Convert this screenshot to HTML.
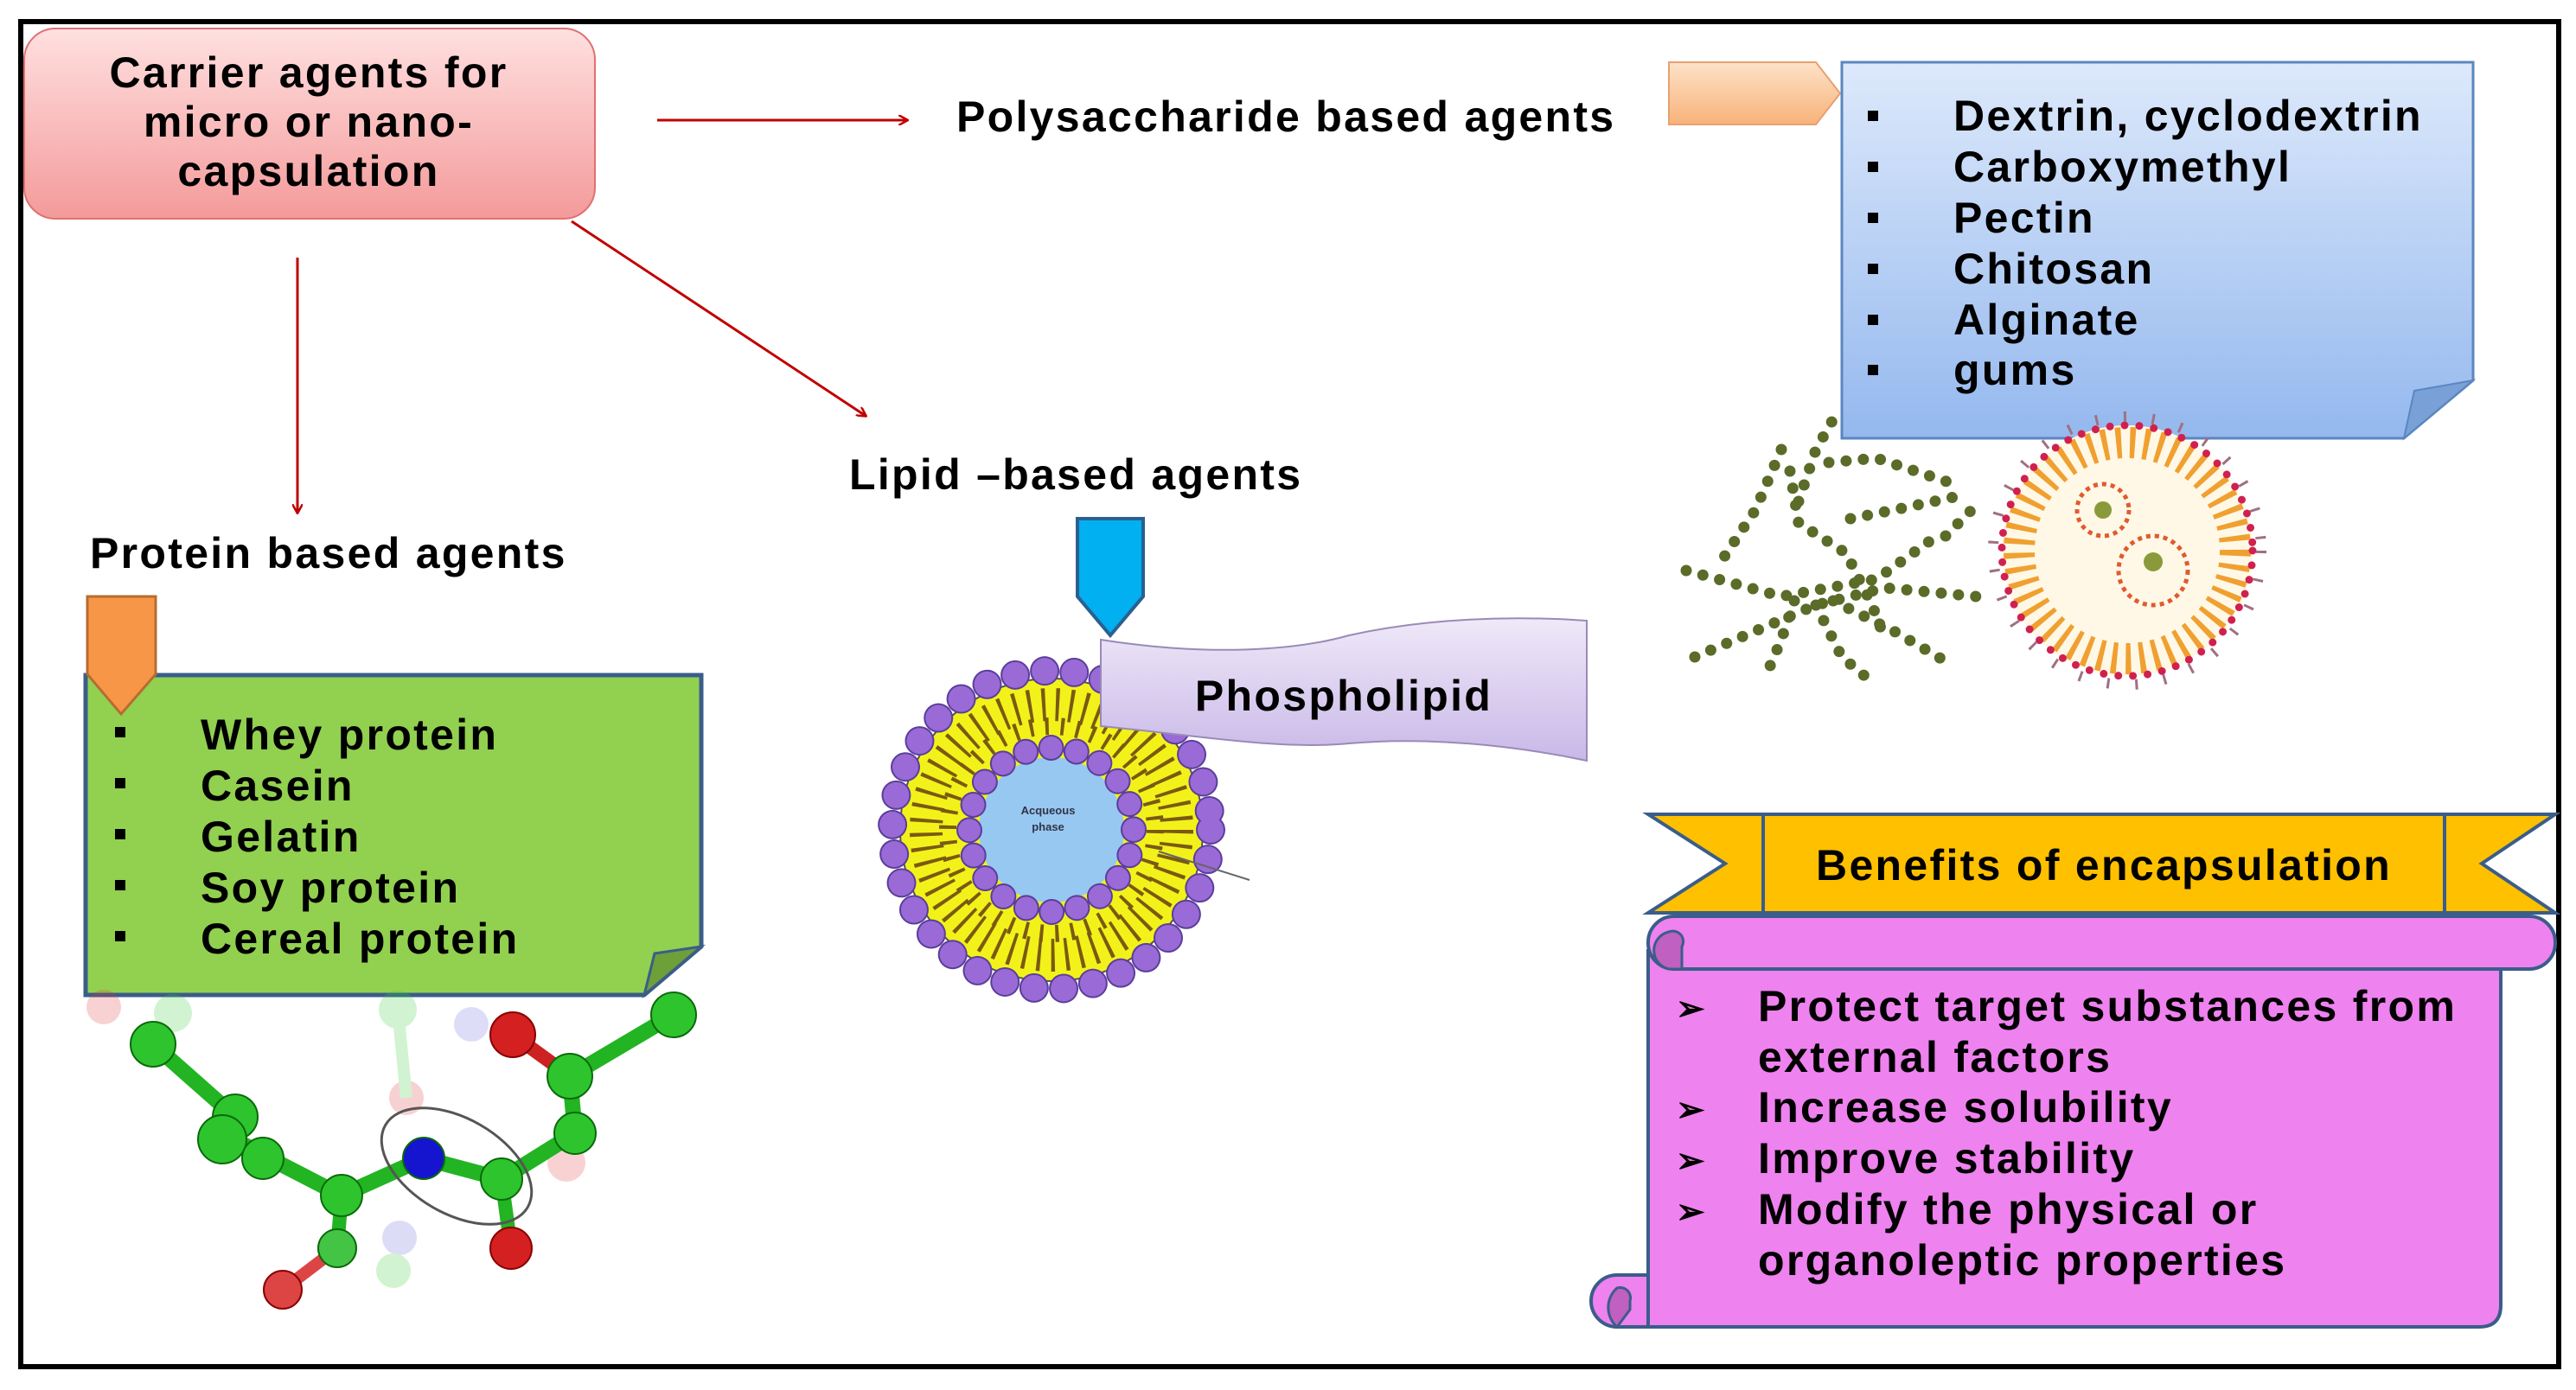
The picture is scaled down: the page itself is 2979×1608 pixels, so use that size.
<!DOCTYPE html>
<html><head><meta charset="utf-8"><style>
html,body{margin:0;padding:0;background:#fff}
svg{display:block}
text{font-family:"Liberation Sans",Arial,sans-serif;font-weight:bold;fill:#000;letter-spacing:2.3px}
text.s{letter-spacing:0}
</style></head><body>
<svg width="2979" height="1608" viewBox="0 0 2979 1608" xmlns="http://www.w3.org/2000/svg">
<defs>
<linearGradient id="pink" x1="0" y1="0" x2="0" y2="1"><stop offset="0" stop-color="#ffe0e0"/><stop offset="1" stop-color="#f49a9a"/></linearGradient>
<linearGradient id="blue" x1="0" y1="0" x2="0" y2="1"><stop offset="0" stop-color="#dde9fb"/><stop offset="1" stop-color="#94b8ee"/></linearGradient>
<linearGradient id="lav" x1="0" y1="0" x2="0" y2="1"><stop offset="0" stop-color="#efe9f8"/><stop offset="1" stop-color="#c9b8e8"/></linearGradient>
<linearGradient id="peach" x1="0" y1="0" x2="0" y2="1"><stop offset="0" stop-color="#fde2c8"/><stop offset="1" stop-color="#f8b27a"/></linearGradient>
<marker id="ah" markerWidth="12" markerHeight="12" refX="10" refY="6" orient="auto" markerUnits="userSpaceOnUse"><path d="M0,0 L11,6 L0,12" fill="none" stroke="#c00000" stroke-width="2.5"/></marker>
</defs>
<rect x="24" y="25" width="2935" height="1556" fill="none" stroke="#000" stroke-width="6"/>

<rect x="28" y="33" width="660" height="220" rx="36" fill="url(#pink)" stroke="#e07070" stroke-width="2"/>
<g font-size="50">
<text x="357" y="101" text-anchor="middle">Carrier agents  for</text>
<text x="357" y="158" text-anchor="middle">micro or nano-</text>
<text x="357" y="215" text-anchor="middle">capsulation</text>
</g>

<line x1="760" y1="139" x2="1049" y2="139" stroke="#c00000" stroke-width="3" marker-end="url(#ah)"/>
<line x1="344" y1="298" x2="344" y2="593" stroke="#c00000" stroke-width="3" marker-end="url(#ah)"/>
<line x1="661" y1="256" x2="1001" y2="481" stroke="#c00000" stroke-width="3" marker-end="url(#ah)"/>

<g font-size="50">
<text x="1106" y="152">Polysaccharide based agents</text>
<text x="982" y="566">Lipid –based agents</text>
<text x="104" y="657">Protein based agents</text>
</g>

<polygon points="99,781 811,781 811,1095 745,1151 99,1151" fill="#92d050" stroke="#3a5d8a" stroke-width="5"/>
<polygon points="745,1151 757,1103 811,1095" fill="#6f9f38" stroke="#3a5d8a" stroke-width="3"/>
<polygon points="101,690 180,690 180,780 140,826 101,780" fill="#f79646" stroke="#b66d30" stroke-width="3"/>
<g font-size="50">
<rect x="133" y="841" width="12" height="12" fill="#000"/><text x="232" y="867">Whey protein</text>
<rect x="133" y="900" width="12" height="12" fill="#000"/><text x="232" y="926">Casein</text>
<rect x="133" y="959" width="12" height="12" fill="#000"/><text x="232" y="985">Gelatin</text>
<rect x="133" y="1018" width="12" height="12" fill="#000"/><text x="232" y="1044">Soy protein</text>
<rect x="133" y="1077" width="12" height="12" fill="#000"/><text x="232" y="1103">Cereal protein</text>
</g>

<g opacity="0.22">
<circle cx="120" cy="1165" r="20" fill="#d33"/><circle cx="200" cy="1172" r="22" fill="#3c3"/>
<circle cx="460" cy="1168" r="22" fill="#3c3"/><circle cx="545" cy="1185" r="20" fill="#66d"/>
<circle cx="470" cy="1270" r="20" fill="#d33"/><circle cx="655" cy="1345" r="22" fill="#d33"/>
<circle cx="462" cy="1432" r="20" fill="#66d"/><circle cx="455" cy="1470" r="20" fill="#3c3"/>
<line x1="460" y1="1168" x2="470" y2="1270" stroke="#3c3" stroke-width="14"/>
</g>
<g stroke-linecap="round">
<polyline points="177,1208 272,1292 257,1311 304,1336 395,1383 490,1340 580,1364 665,1311 659,1245 779,1174" fill="none" stroke="#22b422" stroke-width="18"/>
<line x1="659" y1="1245" x2="593" y2="1197" stroke="#cc2222" stroke-width="16"/>
<line x1="580" y1="1364" x2="591" y2="1444" stroke="#22b422" stroke-width="16"/>
<line x1="395" y1="1383" x2="390" y2="1444" stroke="#22b422" stroke-width="16"/>
<line x1="390" y1="1444" x2="327" y2="1492" stroke="#d44" stroke-width="14"/>
</g>
<g stroke="#0a6a0a" stroke-width="2">
<circle cx="177" cy="1208" r="26" fill="#2ec42e"/><circle cx="272" cy="1292" r="26" fill="#2ec42e"/>
<circle cx="257" cy="1318" r="28" fill="#2ec42e"/><circle cx="304" cy="1340" r="24" fill="#2ec42e"/>
<circle cx="395" cy="1383" r="24" fill="#2ec42e"/><circle cx="490" cy="1340" r="24" fill="#1515d0"/>
<circle cx="580" cy="1364" r="24" fill="#2ec42e"/><circle cx="665" cy="1311" r="24" fill="#2ec42e"/>
<circle cx="659" cy="1245" r="26" fill="#2ec42e"/><circle cx="779" cy="1174" r="26" fill="#2ec42e"/>
<circle cx="593" cy="1197" r="26" fill="#d42020" stroke="#800"/><circle cx="591" cy="1444" r="24" fill="#d42020" stroke="#800"/>
<circle cx="390" cy="1444" r="22" fill="#44c444"/><circle cx="327" cy="1492" r="22" fill="#d44" stroke="#800"/>
</g>
<ellipse cx="528" cy="1349" rx="95" ry="55" transform="rotate(30 528 1349)" fill="none" stroke="#555" stroke-width="3"/>

<circle cx="1216" cy="960" r="175" fill="#f2f21a" stroke="#555" stroke-width="2"/>
<circle cx="1216" cy="960" r="145" fill="none" stroke="#7a5a10" stroke-width="38" stroke-dasharray="4 12"/>
<circle cx="1216" cy="960" r="120" fill="none" stroke="#7a5a10" stroke-width="20" stroke-dasharray="4 14"/>
<circle cx="1216" cy="960" r="184" fill="none" stroke="#5a3e9a" stroke-width="34" stroke-dasharray="0 34.35" stroke-linecap="round"/>
<circle cx="1216" cy="960" r="184" fill="none" stroke="#9a6ad6" stroke-width="30" stroke-dasharray="0 34.35" stroke-linecap="round"/>
<circle cx="1216" cy="960" r="84" fill="#96c8f2"/>
<circle cx="1216" cy="960" r="95" fill="none" stroke="#5a3e9a" stroke-width="30" stroke-dasharray="0 29.8" stroke-linecap="round"/>
<circle cx="1216" cy="960" r="95" fill="none" stroke="#9a6ad6" stroke-width="26" stroke-dasharray="0 29.8" stroke-linecap="round"/>
<text class="s" x="1212" y="942" font-size="13" text-anchor="middle" style="fill:#334">Acqueous</text>
<text class="s" x="1212" y="961" font-size="13" text-anchor="middle" style="fill:#334">phase</text>
<line x1="1340" y1="985" x2="1445" y2="1018" stroke="#666" stroke-width="2"/>

<path d="M1273,740 C1400,760 1500,752 1560,735 C1650,715 1750,712 1835,718 L1835,880 C1750,862 1650,852 1560,860 C1480,868 1380,850 1273,840 Z" fill="url(#lav)" stroke="#9a8ab8" stroke-width="2"/>
<polygon points="1246,600 1322,600 1322,690 1284,735 1246,690" fill="#00b0f0" stroke="#2a6090" stroke-width="4"/>
<text x="1554" y="822" font-size="50" text-anchor="middle">Phospholipid</text>

<polygon points="1930,72 2100,72 2128,108 2100,144 1930,144" fill="url(#peach)" stroke="#e8a070" stroke-width="2"/>
<polygon points="2130,72 2860,72 2860,440 2780,507 2130,507" fill="url(#blue)" stroke="#5b86c0" stroke-width="3"/>
<polygon points="2780,507 2792,452 2860,440" fill="#7aa0d8" stroke="#5b86c0" stroke-width="2"/>
<g font-size="50">
<rect x="2160" y="128" width="12" height="12" fill="#000"/><text x="2259" y="151">Dextrin, cyclodextrin</text>
<rect x="2160" y="187" width="12" height="12" fill="#000"/><text x="2259" y="210">Carboxymethyl</text>
<rect x="2160" y="246" width="12" height="12" fill="#000"/><text x="2259" y="269">Pectin</text>
<rect x="2160" y="305" width="12" height="12" fill="#000"/><text x="2259" y="328">Chitosan</text>
<rect x="2160" y="364" width="12" height="12" fill="#000"/><text x="2259" y="387">Alginate</text>
<rect x="2160" y="422" width="12" height="12" fill="#000"/><text x="2259" y="445">gums</text>
</g>

<g fill="none" stroke="#5b6b28" stroke-width="13" stroke-linecap="round" stroke-dasharray="0 20">
<polyline points="1950,660 2060,690 2170,670 2240,620"/>
<polyline points="2070,545 2080,605 2135,640 2165,700 2180,740"/>
<polyline points="2060,520 2030,590 1990,650"/>
<polyline points="2115,535 2170,530 2260,560"/>
<polyline points="2075,695 2060,740 2045,775"/>
<polyline points="2120,695 2190,730 2250,765"/>
<polyline points="1960,760 2030,730 2100,700 2180,680 2285,690"/>
<polyline points="2140,600 2190,590 2260,575"/>
<polyline points="2080,580 2100,520 2120,485"/>
<polyline points="2100,700 2130,760 2160,785"/>
<polyline points="2250,620 2280,590"/>
</g>

<circle cx="2460" cy="637" r="145" fill="#fff8e6"/>
<circle cx="2460" cy="637" r="125" fill="none" stroke="#f0a030" stroke-width="36" stroke-dasharray="6 10"/>
<circle cx="2460" cy="637" r="145" fill="none" stroke="#d02050" stroke-width="9" stroke-dasharray="0 17" stroke-linecap="round"/>
<circle cx="2460" cy="637" r="155" fill="none" stroke="#a07080" stroke-width="12" stroke-dasharray="3 30"/>
<circle cx="2432" cy="590" r="30" fill="none" stroke="#e05a30" stroke-width="5" stroke-dasharray="5 5"/>
<circle cx="2432" cy="590" r="10" fill="#8a9a3a"/>
<circle cx="2490" cy="660" r="40" fill="none" stroke="#e05a30" stroke-width="5" stroke-dasharray="5 5"/>
<circle cx="2490" cy="650" r="11" fill="#8a9a3a"/>

<polygon points="1906,942 2039,942 2039,1056 1906,1056 1995,999" fill="#ffc000" stroke="#3a5d8a" stroke-width="4"/>
<polygon points="2955,942 2827,942 2827,1056 2955,1056 2870,999" fill="#ffc000" stroke="#3a5d8a" stroke-width="4"/>
<rect x="2039" y="942" width="788" height="114" fill="#ffc000" stroke="#3a5d8a" stroke-width="4"/>
<text x="2433" y="1018" font-size="50" text-anchor="middle">Benefits of encapsulation</text>

<path d="M1906,1100 L2892,1100 L2892,1510 Q2892,1535 2867,1535 L1870,1535 L1870,1475 L1906,1475 Z" fill="#ee82ee" stroke="#3a5d8a" stroke-width="4"/>
<rect x="1906" y="1060" width="1049" height="61" rx="30" fill="#ee82ee" stroke="#3a5d8a" stroke-width="4"/>
<path d="M1930,1121 A22,22 0 0 1 1930,1078 A12,12 0 0 1 1945,1095 L1945,1121 Z" fill="#c060c0" stroke="#3a5d8a" stroke-width="3"/>
<path d="M1870,1475 A30,30 0 1 0 1870,1535 L1906,1535 L1906,1475 Z" fill="#ee82ee" stroke="#3a5d8a" stroke-width="4"/>
<path d="M1870,1535 A30,30 0 0 1 1870,1490 A12,12 0 0 1 1885,1505 L1885,1515 Z" fill="#c060c0" stroke="#3a5d8a" stroke-width="3"/>
<g font-size="50">
<text class="s" x="1938" y="1180" font-size="40">➢</text><text x="2033" y="1181">Protect target substances from</text>
<text x="2033" y="1240">external factors</text>
<text class="s" x="1938" y="1297" font-size="40">➢</text><text x="2033" y="1298">Increase solubility</text>
<text class="s" x="1938" y="1356" font-size="40">➢</text><text x="2033" y="1357">Improve  stability</text>
<text class="s" x="1938" y="1415" font-size="40">➢</text><text x="2033" y="1416">Modify the physical or</text>
<text x="2033" y="1475">organoleptic properties</text>
</g>
</svg>
</body></html>
